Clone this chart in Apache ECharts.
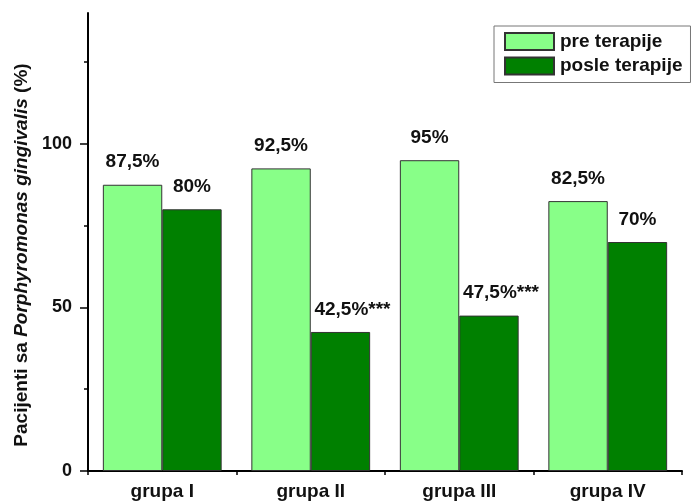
<!DOCTYPE html>
<html>
<head>
<meta charset="utf-8">
<style>
  html, body { margin: 0; padding: 0; background: #ffffff; }
  #chart { width: 691px; height: 502px; }
</style>
<script src="https://cdn.jsdelivr.net/npm/echarts@6/dist/echarts.min.js"></script>
</head>
<body>
<div id="chart"></div>
<script>
// Share of patients positive for Porphyromonas gingivalis, before and after therapy
var groups = ['grupa I', 'grupa II', 'grupa III', 'grupa IV'];
var preTherapy = [87.5, 92.5, 95, 82.5];
var postTherapy = [80, 42.5, 47.5, 70];
var postSignificance = ['', '***', '***', ''];
var seriesNames = ['pre terapije', 'posle terapije'];
var majorTicks = [0, 50, 100];
var minorTicks = [25, 75, 125];

var FONT = 'Liberation Sans, Arial, Helvetica, sans-serif';

function pct(v) {
  return String(v).replace('.', ',') + '%';
}

function labelled(values, marks) {
  return values.map(function (v, i) {
    var m = marks ? marks[i] : '';
    var item = { value: v };
    if (m) {
      // keep the number itself centred over the bar, the stars trail to the right
      item.label = { offset: [12, 0] };
    }
    return item;
  });
}

var barLabel = {
  show: true,
  position: 'top',
  distance: 13,
  color: '#111',
  fontFamily: FONT,
  fontWeight: 'bold',
  fontSize: 19
};

var chart = echarts.init(document.getElementById('chart'), null, { renderer: 'canvas' });

chart.setOption({
  animation: false,
  backgroundColor: '#ffffff',
  grid: { left: 88, right: 9, top: 13, bottom: 31, containLabel: false },
  legend: {
    orient: 'vertical',
    left: 494,
    top: 26,
    align: 'left',
    padding: [6, 8, 7, 10],
    itemGap: 5.5,
    itemWidth: 49,
    itemHeight: 17,
    borderColor: '#777',
    borderWidth: 1,
    icon: 'rect',
    textStyle: { color: '#111', fontFamily: FONT, fontWeight: 'bold', fontSize: 19, padding: [0, 0, 0, 1] },
    data: seriesNames
  },
  xAxis: [
    {
      type: 'category',
      data: groups,
      position: 'bottom',
      axisLine: { lineStyle: { color: '#000', width: 2 } },
      axisTick: { alignWithLabel: true, length: 8, lineStyle: { color: '#000', width: 1.5 } },
      axisLabel: { color: '#111', fontFamily: FONT, fontWeight: 'bold', fontSize: 19, margin: 11 },
      splitLine: { show: false }
    },
    {
      type: 'category',
      data: groups,
      position: 'bottom',
      axisLine: { show: false },
      axisTick: { show: true, length: 4, lineStyle: { color: '#000', width: 1.5 } },
      axisLabel: { show: false },
      splitLine: { show: false }
    }
  ],
  yAxis: [
    {
      type: 'value',
      min: 0,
      max: 140,
      interval: 50,
      position: 'left',
      name: '{n|Pacijenti sa }{i|Porphyromonas gingivalis}{n| (%)}',
      nameLocation: 'middle',
      nameGap: 54,
      nameTextStyle: {
        padding: [0, 26, 0, 0],
        rich: {
          n: { color: '#111', fontFamily: FONT, fontWeight: 'bold', fontSize: 19 },
          i: { color: '#111', fontFamily: FONT, fontWeight: 'bold', fontStyle: 'italic', fontSize: 19 }
        }
      },
      axisLine: { show: true, lineStyle: { color: '#000', width: 2 } },
      axisTick: { show: true, length: 8, customValues: majorTicks, lineStyle: { color: '#000', width: 1.5 } },
      axisLabel: {
        customValues: majorTicks,
        color: '#111', fontFamily: FONT, fontWeight: 'bold', fontSize: 18, margin: 16
      },
      splitLine: { show: false }
    },
    {
      type: 'value',
      min: 0,
      max: 140,
      position: 'left',
      axisLine: { show: false },
      axisTick: { show: true, length: 4, customValues: minorTicks, lineStyle: { color: '#000', width: 1.5 } },
      axisLabel: { show: false },
      splitLine: { show: false }
    }
  ],
  series: [
    {
      name: seriesNames[0],
      type: 'bar',
      xAxisIndex: 0,
      yAxisIndex: 0,
      barGap: '0%',
      barCategoryGap: '20%',
      itemStyle: { color: '#88ff88', borderColor: '#333', borderWidth: 1 },
      label: Object.assign({}, barLabel, { formatter: function (p) { return pct(p.value); } }),
      data: labelled(preTherapy)
    },
    {
      name: seriesNames[1],
      type: 'bar',
      xAxisIndex: 0,
      yAxisIndex: 0,
      barGap: '0%',
      barCategoryGap: '20%',
      itemStyle: { color: '#008000', borderColor: '#333', borderWidth: 1 },
      label: Object.assign({}, barLabel, {
        formatter: function (p) { return pct(p.value) + postSignificance[p.dataIndex]; }
      }),
      data: labelled(postTherapy, postSignificance)
    }
  ]
});
</script>
</body>
</html>
